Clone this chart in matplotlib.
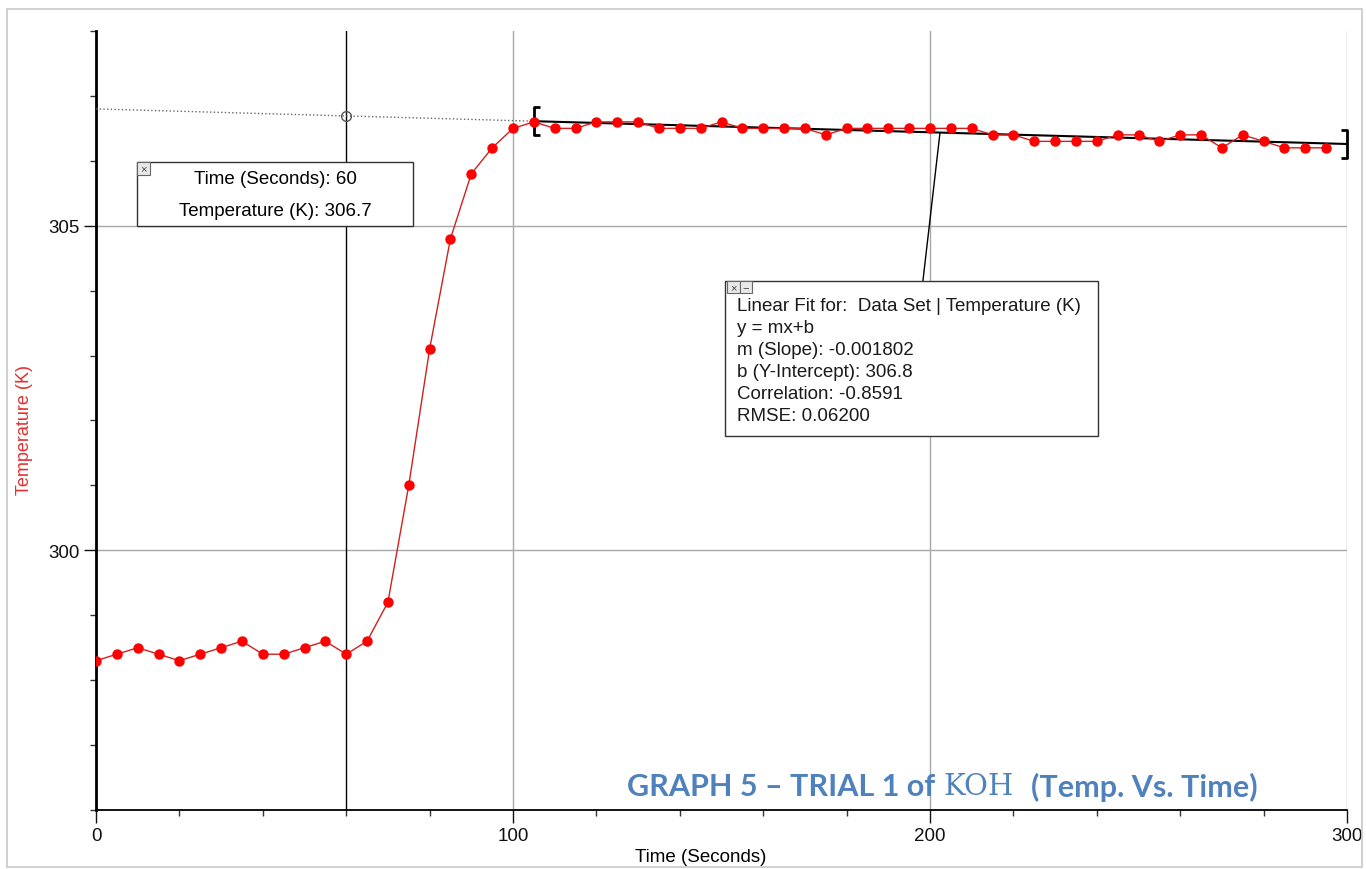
import numpy as np
import matplotlib.pyplot as plt
from matplotlib.patches import Rectangle
from matplotlib.path import Path
from matplotlib.ticker import MultipleLocator

plt.rcParams['font.family'] = ['Liberation Sans', 'DejaVu Sans']

# data
time_s = [0, 5, 10, 15, 20, 25, 30, 35, 40, 45, 50, 55, 60, 65, 70, 75, 80, 85, 90, 95,
          100, 105, 110, 115, 120, 125, 130, 135, 140, 145, 150, 155, 160, 165, 170, 175,
          180, 185, 190, 195, 200, 205, 210, 215, 220, 225, 230, 235, 240, 245, 250, 255,
          260, 265, 270, 275, 280, 285, 290, 295]
temp_k = [298.3, 298.4, 298.5, 298.4, 298.3, 298.4, 298.5, 298.6, 298.4, 298.4,
          298.5, 298.6, 298.4, 298.6, 299.2, 301.0, 303.1, 304.8, 305.8, 306.2,
          306.5, 306.6, 306.5, 306.5, 306.6, 306.6, 306.6, 306.5, 306.5, 306.5,
          306.6, 306.5, 306.5, 306.5, 306.5, 306.4, 306.5, 306.5, 306.5, 306.5,
          306.5, 306.5, 306.5, 306.4, 306.4, 306.3, 306.3, 306.3, 306.3, 306.4,
          306.4, 306.3, 306.4, 306.4, 306.2, 306.4, 306.3, 306.2, 306.2, 306.2]

slope = -0.001802
intercept = 306.8
fit_range = [105, 300]
cursor_t = 60
cursor_txt = ['Time (Seconds): 60', 'Temperature (K): 306.7']
fit_txt = ['Linear Fit for:  Data Set | Temperature (K)', 'y = mx+b',
           'm (Slope): -0.001802', 'b (Y-Intercept): 306.8',
           'Correlation: -0.8591', 'RMSE: 0.06200']

fig = plt.figure(figsize=(13.66, 8.70), dpi=100)
ax = fig.add_axes([96 / 1366, 1 - 811 / 870, 1251 / 1366, 779 / 870])

ax.set_xlim(0, 300)
ax.set_ylim(296, 308)
ax.xaxis.set_major_locator(MultipleLocator(100))
ax.xaxis.set_minor_locator(MultipleLocator(20))
ax.yaxis.set_major_locator(MultipleLocator(5))
ax.yaxis.set_minor_locator(MultipleLocator(1))
ax.grid(True, which='major', color='#a8a8a8', lw=1)
ax.set_axisbelow(True)

for s in ['top', 'right']:
    ax.spines[s].set_visible(False)
ax.spines['left'].set_linewidth(2)
ax.spines['bottom'].set_linewidth(1.3)
ax.tick_params(which='major', length=9, width=1, labelsize=13.5, colors='#111111', pad=3)
ax.tick_params(which='minor', length=4.5, width=1, colors='#333333')

ax.set_xlabel('Time (Seconds)', fontsize=13.5, va='top')
ax.xaxis.set_label_coords(0.483, -0.049)
ax.set_ylabel('Temperature (K)', fontsize=13, color='#e03030')
ax.yaxis.set_label_coords(-0.050, 0.489)

# cursor line
ax.axvline(cursor_t, color='black', lw=1, zorder=2)

# fit line and extrapolation
fx = np.array(fit_range)
ax.plot(fx, slope * fx + intercept, color='black', lw=1.5, zorder=3)
ex = np.array([0, fit_range[0]])
ax.plot(ex, slope * ex + intercept, color='#666666', lw=1, ls=':', zorder=3)
ax.plot([cursor_t], [slope * cursor_t + intercept], marker='o', ms=7, mfc='none',
        mec='#555555', mew=1, zorder=4)

# brackets at fit ends
lb = Path([(0.4, 1), (0, 1), (0, -1), (0.4, -1)],
          [Path.MOVETO, Path.LINETO, Path.LINETO, Path.LINETO])
rb = Path([(-0.4, 1), (0, 1), (0, -1), (-0.4, -1)],
          [Path.MOVETO, Path.LINETO, Path.LINETO, Path.LINETO])
ax.plot([fit_range[0]], [slope * fit_range[0] + intercept], marker=lb, ms=20,
        mfc='none', mec='black', mew=2, zorder=5, clip_on=False)
ax.plot([fit_range[1]], [slope * fit_range[1] + intercept], marker=rb, ms=20,
        mfc='none', mec='black', mew=2, zorder=5, clip_on=False)

# data
ax.plot(time_s, temp_k, color='#d02020', lw=1, marker='o', ms=6.5,
        mfc='#ff0000', mec='#ff0000', zorder=6)

# cursor box
ax.add_patch(Rectangle((0.0328, 0.750), 0.2206, 0.082, transform=ax.transAxes,
                       fc='white', ec='#333333', lw=1, zorder=8))
ax.add_patch(Rectangle((0.0328, 0.815), 0.0104, 0.017, transform=ax.transAxes,
                       fc='#e8e8e8', ec='#666666', lw=0.8, zorder=9))
ax.text(0.0380, 0.8235, '×', transform=ax.transAxes, fontsize=8, ha='center',
        va='center', color='#444444', zorder=10)
ax.text(0.1431, 0.811, cursor_txt[0], transform=ax.transAxes, fontsize=13.5,
        ha='center', va='center', zorder=10)
ax.text(0.1431, 0.770, cursor_txt[1], transform=ax.transAxes, fontsize=13.5,
        ha='center', va='center', zorder=10)

# fit box
ax.add_patch(Rectangle((0.503, 0.480), 0.298, 0.199, transform=ax.transAxes,
                       fc='white', ec='#333333', lw=1, zorder=8))
for i, sym in enumerate(['×', '−']):
    ax.add_patch(Rectangle((0.5045 + i * 0.0100, 0.664), 0.0100, 0.0145,
                           transform=ax.transAxes, fc='#e8e8e8', ec='#666666',
                           lw=0.8, zorder=9))
    ax.text(0.5095 + i * 0.0100, 0.671, sym, transform=ax.transAxes, fontsize=8,
            ha='center', va='center', color='#444444', zorder=10)
for i, line in enumerate(fit_txt):
    ax.text(0.5125, 0.647 - i * 0.028, line, transform=ax.transAxes, fontsize=13.5,
            ha='left', va='center', color='#1a1a1a', zorder=10)
cx = 202.4
ax.annotate('', xy=(cx, slope * cx + intercept), xycoords='data',
            xytext=(0.661, 0.679), textcoords='axes fraction',
            arrowprops=dict(arrowstyle='-', color='black', lw=1,
                            shrinkA=0, shrinkB=0), zorder=7)

# title pieces
blue = '#4f81bd'
ty = 1 - 787 / 870
fig.text(627 / 1366, ty, 'GRAPH 5 – TRIAL 1 of', fontsize=22, fontweight='bold',
         family='Lato', color=blue, ha='left', va='center')
fig.text(943 / 1366, ty, 'KOH', fontsize=21, family='DejaVu Serif', color=blue,
         ha='left', va='center')
fig.text(1258 / 1366, ty, '(Temp. Vs. Time)', fontsize=22, fontweight='bold',
         family='Lato', color=blue, ha='right', va='center')

# outer frame
fig.add_artist(Rectangle((7 / 1366, 2 / 870), 1355 / 1366, 858 / 870,
                         transform=fig.transFigure, fill=False, ec='#c8c8c8', lw=1.2))

fig.savefig('out.png', dpi=100)
